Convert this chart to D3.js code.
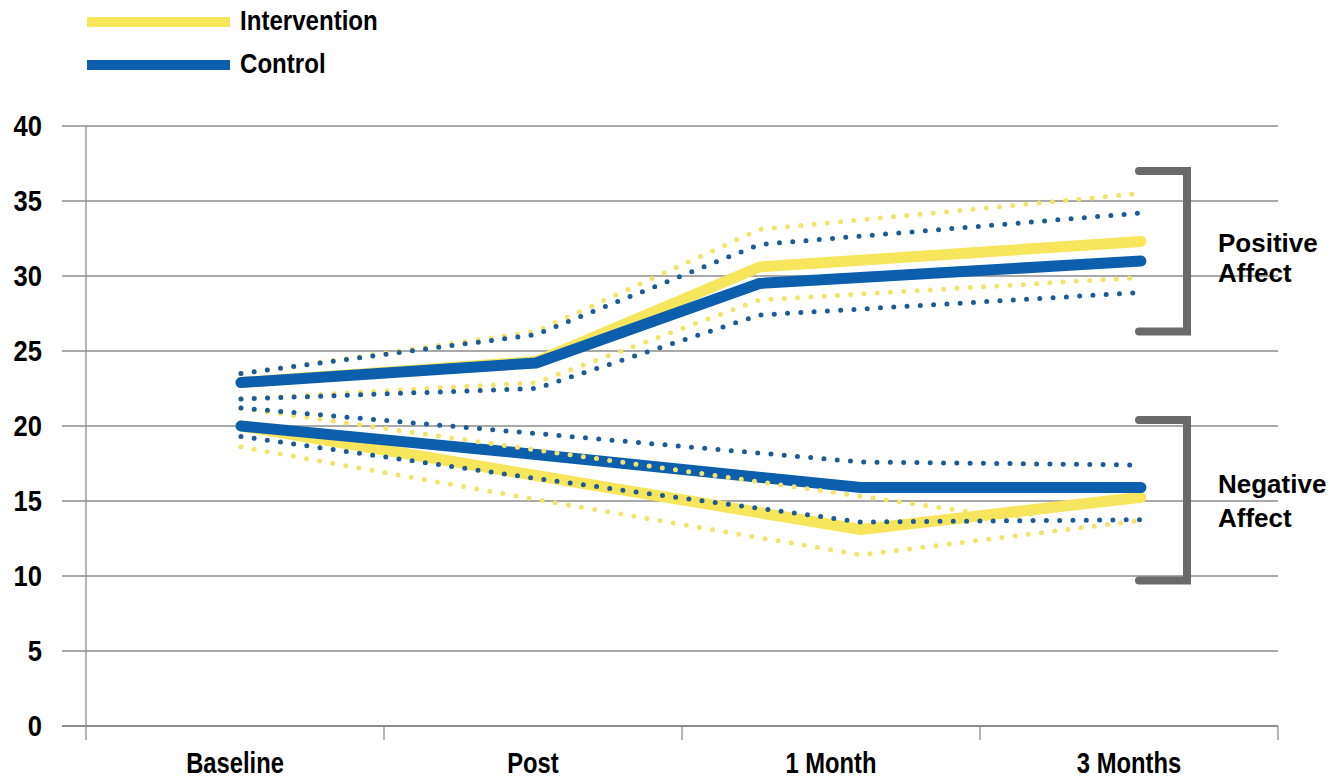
<!DOCTYPE html>
<html>
<head>
<meta charset="utf-8">
<script src="https://cdnjs.cloudflare.com/ajax/libs/d3/7.8.5/d3.min.js"></script>
<style>
  body { margin: 0; background: #fff; }
  text { font-family: "Liberation Sans", Arial, sans-serif; font-weight: bold; fill: #000; }
</style>
</head>
<body>
<div id="chart"></div>
<script>
// categories and ticks
var categories = ["Baseline", "Post", "1 Month", "3 Months"];
var yTicks = [0, 5, 10, 15, 20, 25, 30, 35, 40];

// time position of each point (category index)
var posTime = [0.02, 1.01, 1.76, 3.04];
var negTime = [0.02, 1.01, 2.10, 3.04];
var negIntHiTime = [0.02, 1.01, 2.60, 3.04];

// positive affect
var posIntervention = [22.9, 24.3, 30.6, 32.3];
var posInterventionLo = [21.8, 22.9, 28.4, 29.9];
var posInterventionHi = [23.5, 26.3, 33.1, 35.5];
var posControl = [22.9, 24.2, 29.5, 31.0];
var posControlLo = [21.8, 22.5, 27.4, 28.9];
var posControlHi = [23.5, 26.1, 32.1, 34.2];

// negative affect
var negIntervention = [20.0, 16.7, 13.1, 15.25];
var negInterventionLo = [18.6, 15.1, 11.4, 13.7];
var negInterventionHi = [21.2, 18.4, 13.9, 15.4];
var negControl = [20.0, 18.1, 15.9, 15.9];
var negControlLo = [19.3, 16.5, 13.6, 13.75];
var negControlHi = [21.2, 19.5, 17.6, 17.4];

// brackets (top, bottom) and their labels
var brackets = [[37.0, 26.3], [20.4, 9.7]];
var bracketLabels = [["Positive", "Affect"], ["Negative", "Affect"]];

var legendNames = ["Intervention", "Control"];

var yellow = "#f7e65c";
var blue = "#0b5fad";
var yellowDot = "#f2e36a";
var blueDot = "#1d5a98";

var width = 1333, height = 782;

var svg = d3.select("#chart").append("svg")
  .attr("width", width)
  .attr("height", height);

var x = d3.scaleLinear().domain([-0.5, 3.5]).range([86, 1278]);
var y = d3.scaleLinear().domain([0, 40]).range([726, 126]);

// grid lines
svg.selectAll(".grid")
  .data(yTicks)
  .enter().append("line")
  .attr("x1", 62)
  .attr("x2", x(3.5))
  .attr("y1", function (d) { return y(d); })
  .attr("y2", function (d) { return y(d); })
  .attr("stroke", "#8c8c8c")
  .attr("stroke-width", function (d) { return d === 0 ? 2 : 1.3; });

// y axis line
svg.append("line")
  .attr("x1", x(-0.5)).attr("x2", x(-0.5))
  .attr("y1", y(40)).attr("y2", y(0) + 14)
  .attr("stroke", "#8c8c8c").attr("stroke-width", 1.3);

// x tick marks between categories
svg.selectAll(".xtick")
  .data([0.5, 1.5, 2.5, 3.5])
  .enter().append("line")
  .attr("x1", function (d) { return x(d); })
  .attr("x2", function (d) { return x(d); })
  .attr("y1", y(0))
  .attr("y2", y(0) + 14)
  .attr("stroke", "#8c8c8c").attr("stroke-width", 1.3);

// y labels (condensed look)
svg.selectAll(".ylab")
  .data(yTicks)
  .enter().append("text")
  .attr("transform", function (d) { return "translate(42," + (y(d) + 10) + ") scale(0.88,1)"; })
  .attr("text-anchor", "end")
  .attr("font-size", 29)
  .text(function (d) { return d; });

// x labels
svg.selectAll(".xlab")
  .data(categories)
  .enter().append("text")
  .attr("transform", function (d, i) { return "translate(" + x(i) + ",773) scale(0.82,1)"; })
  .attr("text-anchor", "middle")
  .attr("font-size", 29)
  .text(function (d) { return d; });

var line = d3.line()
  .x(function (d) { return x(d[0]); })
  .y(function (d) { return y(d[1]); });

function pts(t, v) {
  return t.map(function (tt, i) { return [tt, v[i]]; });
}

// mean lines
var means = [
  { p: pts(posTime, posIntervention), c: yellow },
  { p: pts(negTime, negIntervention), c: yellow },
  { p: pts(posTime, posControl), c: blue },
  { p: pts(negTime, negControl), c: blue }
];
svg.selectAll(".mean")
  .data(means)
  .enter().append("path")
  .attr("d", function (d) { return line(d.p); })
  .attr("fill", "none")
  .attr("stroke", function (d) { return d.c; })
  .attr("stroke-width", 11)
  .attr("stroke-linecap", "round")
  .attr("stroke-linejoin", "round");

// dotted confidence lines
var bands = [
  { p: pts(posTime, posInterventionLo), c: yellowDot },
  { p: pts(posTime, posInterventionHi), c: yellowDot },
  { p: pts(negTime, negInterventionLo), c: yellowDot },
  { p: pts(negIntHiTime, negInterventionHi), c: yellowDot },
  { p: pts(posTime, posControlLo), c: blueDot },
  { p: pts(posTime, posControlHi), c: blueDot },
  { p: pts(negTime, negControlLo), c: blueDot },
  { p: pts(negTime, negControlHi), c: blueDot }
];
svg.selectAll(".band")
  .data(bands)
  .enter().append("path")
  .attr("d", function (d) { return line(d.p); })
  .attr("fill", "none")
  .attr("stroke", function (d) { return d.c; })
  .attr("stroke-width", 5)
  .attr("stroke-dasharray", "0,13.3")
  .attr("stroke-linecap", "round");

// brackets
var bx = 1187;
svg.selectAll(".bracket")
  .data(brackets)
  .enter().append("path")
  .attr("d", function (d) {
    return "M" + (bx - 48) + "," + y(d[0]) + "H" + bx + "V" + y(d[1]) + "H" + (bx - 48);
  })
  .attr("fill", "none")
  .attr("stroke", "#6a6a6a")
  .attr("stroke-width", 8)
  .attr("stroke-linecap", "round");

// bracket labels
var labelOffsets = [[1, 31], [-7, 27]];
brackets.forEach(function (b, i) {
  var mid = y((b[0] + b[1]) / 2);
  bracketLabels[i].forEach(function (s, j) {
    svg.append("text")
      .attr("x", 1218)
      .attr("y", mid + labelOffsets[i][j])
      .attr("font-size", 26)
      .text(s);
  });
});

// legend
var legend = svg.selectAll(".legend")
  .data(legendNames)
  .enter().append("g")
  .attr("transform", function (d, i) { return "translate(87," + (22 + i * 43) + ")"; });
legend.append("line")
  .attr("x1", 0).attr("x2", 143)
  .attr("stroke", function (d, i) { return i === 0 ? yellow : blue; })
  .attr("stroke-width", 10);
legend.append("text")
  .attr("transform", "translate(153,8) scale(0.86,1)")
  .attr("font-size", 28)
  .text(function (d) { return d; });
</script>
</body>
</html>
